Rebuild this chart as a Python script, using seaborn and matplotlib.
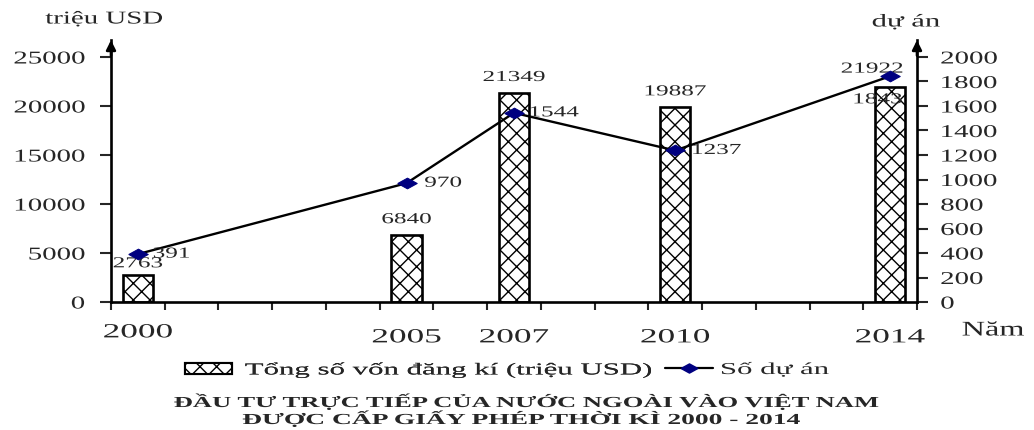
import pandas as pd
import matplotlib
matplotlib.use("Agg")
import matplotlib.pyplot as plt
import matplotlib.transforms as mtransforms
from matplotlib.patches import Patch
from matplotlib.lines import Line2D
from matplotlib.patheffects import AbstractPathEffect
import seaborn as sns

# Data
years = [2000, 2005, 2007, 2010, 2014]
von_dang_ki = [2763, 6840, 21349, 19887, 21922]   # triệu USD
so_du_an = [391, 970, 1544, 1237, 1843]

left_ticks = [0, 5000, 10000, 15000, 20000, 25000]
right_ticks = list(range(0, 2001, 200))


class HStretch(AbstractPathEffect):
    """Widen text horizontally (the reference uses a stretched Times look)."""
    def __init__(self, sx, anchor='center'):
        super().__init__()
        self.sx = sx
        self.anchor = anchor

    def draw_path(self, renderer, gc, tpath, affine, rgbFace=None):
        if len(tpath.vertices) == 0:
            return
        ext = tpath.get_extents()
        ax_ = {'left': ext.x0, 'center': (ext.x0 + ext.x1) / 2, 'right': ext.x1}[self.anchor]
        tr = mtransforms.Affine2D().translate(-ax_, 0).scale(self.sx, 1).translate(ax_, 0) + affine
        renderer.draw_path(gc, tpath, tr, rgbFace)


sns.set_style("white")
plt.rcParams['font.family'] = ['Liberation Serif', 'DejaVu Serif']
plt.rcParams['hatch.linewidth'] = 1.0

df = pd.DataFrame({'year': years, 'von': von_dang_ki, 'duan': so_du_an})

fig = plt.figure(figsize=(10.34, 4.30), dpi=100)
ax = fig.add_axes([111 / 1034, 1 - 302 / 430, (917 - 111) / 1034, (302 - 40) / 430])
ax2 = ax.twinx()

# bars
sns.barplot(data=df, x='year', y='von', native_scale=True, width=0.28,
            color='white', edgecolor='black', linewidth=1.9, ax=ax)
for p in ax.patches:
    p.set_hatch('xx')

# line with flat diamonds
diamond = [(-1, 0), (0, 0.55), (1, 0), (0, -0.55), (-1, 0)]
sns.lineplot(data=df, x='year', y='duan', ax=ax2, color='black', linewidth=1.7,
             marker=diamond, markersize=14, markerfacecolor='#000080',
             markeredgecolor='#000080')

ytop_left = 25000 * (302 - 40) / (302 - 57)
ytop_right = 2000 * (302 - 40) / (302 - 57)
ax.set_xlim(1999.5, 2014.5)
ax.set_ylim(0, ytop_left)
ax2.set_ylim(0, ytop_right)

ax.set_yticks(left_ticks)
ax.set_yticklabels([str(v) for v in left_ticks], fontsize=13)
ax2.set_yticks(right_ticks)
ax2.set_yticklabels([str(v) for v in right_ticks], fontsize=13)
ax.tick_params(axis='y', direction='out', length=8, width=1.5, pad=11, left=True)
ax2.tick_params(axis='y', direction='out', length=8, width=1.5, pad=9, right=True)

# x ticks: year labels + tick marks at half years
ax.set_xticks(years)
ax.set_xticklabels([str(y) for y in years], fontsize=14.5)
ax.set_xticks([y + 0.5 for y in range(1999, 2015)], minor=True)
ax.tick_params(axis='x', which='major', length=0, pad=19)
ax.tick_params(axis='x', which='minor', direction='out', length=6, width=1.5, bottom=True)
lbl0 = ax.get_xticklabels()[0]
lbl0.set_transform(lbl0.get_transform() + mtransforms.ScaledTranslation(0, 5 / 100, fig.dpi_scale_trans))
ax.set_xlabel('')
ax.set_ylabel('')
ax2.set_ylabel('')

for a in (ax, ax2):
    a.grid(False)
    for s in a.spines.values():
        s.set_visible(False)
for a, side in ((ax, 'bottom'), (ax, 'left'), (ax2, 'right')):
    a.spines[side].set_visible(True)
    a.spines[side].set_linewidth(1.9)
    a.spines[side].set_color('black')

# arrow heads on the vertical axes
for xa in (0, 1):
    ax.annotate('', xy=(xa, 1.01), xycoords='axes fraction', xytext=(xa, 0.93),
                arrowprops=dict(arrowstyle='-|>', color='black', lw=1.9, mutation_scale=14))

# data labels
lab_fx = [HStretch(1.65, 'center')]
bar_off = [(0, 8), (0, 11), (0, 11), (0, 11), (-13, 13)]
for y, v, off in zip(years, von_dang_ki, bar_off):
    ax.annotate(str(v), (y, v), textcoords='offset points', xytext=off,
                ha='center', va='center', fontsize=11, path_effects=lab_fx)
line_off = [(11, 0), (13, 0), (11, 0), (12, 0), (-9, -17)]
for y, v, off in zip(years, so_du_an, line_off):
    ha = 'left' if off[0] > 0 else 'center'
    ax2.annotate(str(v), (y, v), textcoords='offset points', xytext=off,
                 ha=ha, va='center', fontsize=11,
                 path_effects=[HStretch(1.65, ha)])

# axis titles
fig.text(104 / 1034, 1 - 19 / 430, 'triệu USD', ha='center', va='center', fontsize=13,
         path_effects=[HStretch(1.6, 'center')])
fig.text(906 / 1034, 1 - 22 / 430, 'dự án', ha='center', va='center', fontsize=13,
         path_effects=[HStretch(1.7, 'center')])
fig.text(962 / 1034, 1 - 331 / 430, 'Năm', ha='left', va='center', fontsize=15,
         path_effects=[HStretch(1.55, 'left')])

# legend (two entries placed side by side)
leg1 = fig.legend([Patch(facecolor='white', edgecolor='black', hatch='xx', linewidth=1.5)],
                  ['Tổng số vốn đăng kí (triệu USD)'],
                  loc='center left', bbox_to_anchor=(185 / 1034, 1 - 370 / 430),
                  frameon=False, fontsize=12, handlelength=2.8, handleheight=0.7,
                  handletextpad=0.8, borderpad=0, borderaxespad=0)
leg2 = fig.legend([Line2D([0], [0], color='black', lw=1.6, marker=diamond, markersize=12,
                          markerfacecolor='#000080', markeredgecolor='#000080')],
                  ['Số dự án'],
                  loc='center left', bbox_to_anchor=(665 / 1034, 1 - 370 / 430),
                  frameon=False, fontsize=12, handlelength=2.9,
                  handletextpad=0.45, borderpad=0, borderaxespad=0)
fig.add_artist(leg1)
for leg in (leg1, leg2):
    for t in leg.get_texts():
        t.set_path_effects([HStretch(1.85, 'left')])

# title
fig.text(526 / 1034, 1 - 402 / 430, 'ĐẦU TƯ TRỰC TIẾP CỦA NƯỚC NGOÀI VÀO VIỆT NAM',
         ha='center', va='center', fontsize=11, fontweight='bold',
         path_effects=[HStretch(1.74, 'center')])
fig.text(521 / 1034, 1 - 419 / 430, 'ĐƯỢC CẤP GIẤY PHÉP THỜI KÌ 2000 - 2014',
         ha='center', va='center', fontsize=11, fontweight='bold',
         path_effects=[HStretch(1.8, 'center')])

# widen tick labels too
fig.canvas.draw()
for t in ax.get_yticklabels():
    t.set_path_effects([HStretch(1.6, 'right')])
for t in ax2.get_yticklabels():
    t.set_path_effects([HStretch(1.6, 'left')])
for t in ax.get_xticklabels():
    t.set_path_effects([HStretch(1.75, 'center')])

fig.savefig('out.png', dpi=100)
